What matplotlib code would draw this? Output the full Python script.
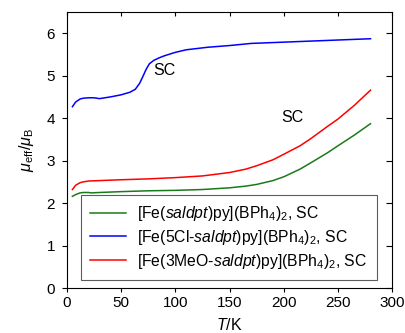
import numpy as np
import matplotlib
matplotlib.use('Agg')
from matplotlib import pyplot as plt

plt.rcParams['font.family'] = ['Liberation Sans', 'DejaVu Sans']
plt.rcParams['mathtext.fontset'] = 'custom'
plt.rcParams['mathtext.rm'] = 'Liberation Sans'
plt.rcParams['mathtext.it'] = 'Liberation Sans:italic'

# Temperatures (K) and effective moments
T_green = [5, 8, 12, 15, 20, 22, 30, 50, 75, 100, 125, 150, 165, 175, 190, 200, 215, 225, 240, 250, 265, 280]
mu_green = [2.16, 2.2, 2.24, 2.25, 2.25, 2.24, 2.25, 2.27, 2.29, 2.30, 2.32, 2.36, 2.40, 2.44, 2.53, 2.62, 2.80, 2.95, 3.18, 3.35, 3.60, 3.87]

T_blue = [5, 8, 12, 15, 20, 25, 30, 40, 50, 58, 63, 67, 70, 73, 76, 80, 85, 90, 100, 110, 130, 150, 170, 200, 230, 250, 280]
mu_blue = [4.27, 4.38, 4.45, 4.47, 4.48, 4.48, 4.46, 4.50, 4.55, 4.61, 4.68, 4.82, 4.98, 5.15, 5.28, 5.36, 5.42, 5.47, 5.55, 5.61, 5.67, 5.71, 5.76, 5.79, 5.82, 5.84, 5.87]

T_red = [5, 8, 12, 15, 20, 30, 50, 75, 100, 125, 150, 165, 175, 190, 200, 215, 225, 240, 250, 265, 280]
mu_red = [2.32, 2.42, 2.48, 2.50, 2.52, 2.53, 2.55, 2.57, 2.60, 2.64, 2.72, 2.80, 2.88, 3.02, 3.15, 3.35, 3.52, 3.80, 3.98, 4.30, 4.66]

labels = [r'[Fe($\it{saldpt}$)py](BPh$_4$)$_2$, SC',
          r'[Fe(5Cl-$\it{saldpt}$)py](BPh$_4$)$_2$, SC',
          r'[Fe(3MeO-$\it{saldpt}$)py](BPh$_4$)$_2$, SC']

fig = plt.figure(figsize=(4.06, 3.33), dpi=100)
ax = fig.add_axes([0.165, 0.135, 0.801, 0.829])

ax.plot(T_green, mu_green, color='#1a7a1a', lw=1.1, label=labels[0])
ax.plot(T_blue, mu_blue, color='#0000ff', lw=1.1, label=labels[1])
ax.plot(T_red, mu_red, color='#ff0000', lw=1.1, label=labels[2])

ax.text(90, 5.12, 'SC', fontsize=11.5, ha='center', va='center')
ax.text(208, 4.02, 'SC', fontsize=11.5, ha='center', va='center')

ax.set_xlim(0, 300)
ax.set_ylim(0, 6.5)
ax.set_xticks([0, 50, 100, 150, 200, 250, 300])
ax.set_yticks([0, 1, 2, 3, 4, 5, 6])
# left/bottom ticks point out, top/right ticks point in
ax.tick_params(axis='y', which='both', left=True, right=True, labelsize=11)
ax.tick_params(axis='x', which='both', bottom=True, top=True, labelsize=11)
ax.yaxis.set_tick_params(direction='out', length=3.5, pad=5)
ax.xaxis.set_tick_params(direction='out', length=3, pad=3)
for t in ax.yaxis.get_major_ticks():
    t.tick2line.set_marker(matplotlib.lines.TICKLEFT)
    t.tick2line.set_markersize(4)
for t in ax.xaxis.get_major_ticks():
    t.tick2line.set_marker(matplotlib.lines.TICKDOWN)
    t.tick2line.set_markersize(3)
ax.set_xlabel(r'$T$/K', fontsize=11.5, labelpad=5)
ax.set_ylabel(r'$\mu_{\rm eff}/\mu_{\rm B}$', fontsize=11.5, labelpad=8)

leg = ax.legend(loc='lower left', bbox_to_anchor=(0.042, 0.029), borderaxespad=0,
                fontsize=11.3, fancybox=False, edgecolor='#333333', handlelength=2.3,
                handletextpad=0.7, borderpad=0.6, labelspacing=0.3)
leg.get_frame().set_linewidth(0.8)

plt.savefig('out.png', dpi=100)
